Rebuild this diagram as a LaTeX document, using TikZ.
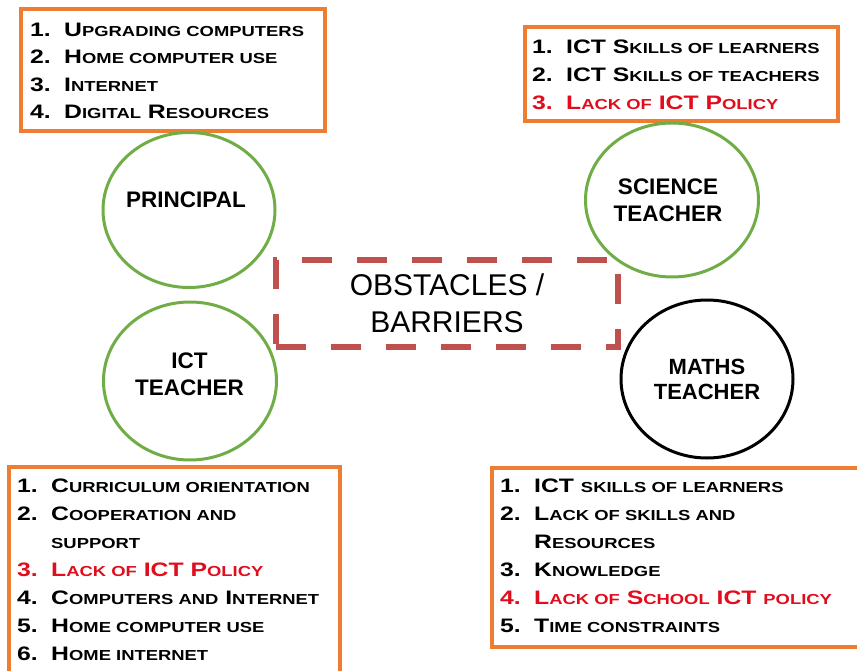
\documentclass[tikz,border=0pt]{standalone}
\usepackage{fontspec}
\setmainfont{Liberation Sans}
% wide bold face for the numbered lists
\newfontfamily\listfont{Liberation Sans}[UprightFont=* Bold, FakeStretch=1.27]
\usetikzlibrary{shapes.geometric}

\definecolor{frameorange}{RGB}{237,125,49}
\definecolor{ringgreen}{RGB}{112,173,71}
\definecolor{barrierred}{RGB}{192,80,77}
\definecolor{alertred}{RGB}{225,12,28}

% small capitals made from reduced upper-case letters
\newcommand\sm[1]{{\fontsize{14.5}{28}\selectfont #1}}
\newcommand\num[1]{\makebox[34pt][l]{#1}}

\tikzset{
  listframe/.style={draw=frameorange, line width=3.2pt, inner sep=0pt},
  listtext/.style={anchor=base west, inner sep=0pt, font=\listfont\fontsize{19.5}{28}\selectfont},
  ring/.style={ellipse, draw=ringgreen, line width=3pt, inner sep=0pt},
  blackring/.style={ring, draw=black},
  rolelabel/.style={align=center, inner sep=0pt, font=\bfseries\fontsize{22.5}{27}\selectfont},
  barrierbox/.style={draw=barrierred, line width=6.5pt, dash pattern=on 30pt off 25pt,
    align=center, inner sep=0pt, font=\fontsize{30}{37}\selectfont},
}

\begin{document}
\begin{tikzpicture}[x=1pt,y=-1pt]
\useasboundingbox (0,0) rectangle (857,671);
\clip (0,0) rectangle (857,671);

% frames of the four lists
\node[listframe, minimum width=304pt, minimum height=122pt] (pframe) at (173,70) {};
\node[listframe, minimum width=313pt, minimum height=94pt] (sframe) at (681.5,74) {};
\node[listframe, minimum width=331pt, minimum height=233pt] (iframe) at (174.5,583.5) {};
\node[listframe, minimum width=388pt, minimum height=179pt] (mframe) at (686,557.5) {};

% principal
\node[listtext, font=\listfont\fontsize{19.5}{27.5}\selectfont] (plist) at (30,36.5) {%
\begin{tabular}[t]{@{}l@{}}
\num{1.}U\sm{PGRADING COMPUTERS}\\
\num{2.}H\sm{OME COMPUTER USE}\\
\num{3.}I\sm{NTERNET}\\
\num{4.}D\sm{IGITAL} R\sm{ESOURCES}
\end{tabular}};

% science teacher
\node[listtext] (slist) at (532,54) {%
\begin{tabular}[t]{@{}l@{}}
\num{1.}ICT S\sm{KILLS OF LEARNERS}\\
\num{2.}ICT S\sm{KILLS OF TEACHERS}\\
\color{alertred}\num{3.}L\sm{ACK OF} ICT P\sm{OLICY}
\end{tabular}};

% ICT teacher
\node[listtext] (ilist) at (17,492.5) {%
\begin{tabular}[t]{@{}l@{}}
\num{1.}C\sm{URRICULUM ORIENTATION}\\
\num{2.}C\sm{OOPERATION AND}\\
\num{}\sm{SUPPORT}\\
\color{alertred}\num{3.}L\sm{ACK OF} ICT P\sm{OLICY}\\
\num{4.}C\sm{OMPUTERS AND} I\sm{NTERNET}\\
\num{5.}H\sm{OME COMPUTER USE}\\
\num{6.}H\sm{OME INTERNET}
\end{tabular}};

% maths teacher
\node[listtext] (mlist) at (500,492.5) {%
\begin{tabular}[t]{@{}l@{}}
\num{1.}ICT \sm{SKILLS OF LEARNERS}\\
\num{2.}L\sm{ACK OF SKILLS AND}\\
\num{}R\sm{ESOURCES}\\
\num{3.}K\sm{NOWLEDGE}\\
\color{alertred}\num{4.}L\sm{ACK OF} S\sm{CHOOL} ICT \sm{POLICY}\\
\num{5.}T\sm{IME CONSTRAINTS}
\end{tabular}};

% the four roles
\node[ring, minimum width=172pt, minimum height=155pt] (principal) at (189,210) {};
\node[ring, minimum width=173pt, minimum height=154pt] (science) at (672,200) {};
\node[ring, minimum width=173pt, minimum height=158pt] (ict) at (190,381) {};
\node[blackring, minimum width=172pt, minimum height=158pt] (maths) at (707,379) {};

\node[rolelabel] (principaltext) at (186,200) {PRINCIPAL};
\node[rolelabel] (sciencetext) at (668,200.5) {SCIENCE\\TEACHER};
\node[rolelabel] (icttext) at (189.5,374.5) {ICT\\TEACHER};
\node[rolelabel, font=\bfseries\fontsize{22}{25}\selectfont] (mathstext) at (707,379) {MATHS\\TEACHER};

% centre
\node[barrierbox, minimum width=342pt, minimum height=87pt] (barriers) at (447,303.5) {OBSTACLES /\\BARRIERS};
\end{tikzpicture}
\end{document}
